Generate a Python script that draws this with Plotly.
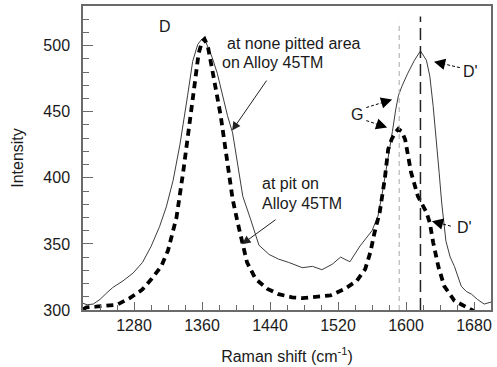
import plotly.graph_objects as go

# ---- data ----
shift_none = [1220, 1225, 1232, 1240, 1248, 1255, 1267, 1279, 1290, 1300, 1310, 1318, 1326, 1334,
              1343, 1349, 1355, 1360, 1365, 1372, 1378, 1384, 1390, 1396, 1400, 1404, 1408, 1417,
              1427, 1439, 1450, 1462, 1478, 1490, 1501, 1513, 1523, 1534, 1546, 1560, 1567, 1572,
              1576, 1580, 1584, 1588, 1591, 1595, 1602, 1610, 1617, 1624, 1628, 1632, 1636, 1639,
              1642, 1647, 1652, 1657, 1665, 1671, 1677, 1684, 1692, 1700]
int_none = [305, 304, 304.5, 308, 313, 317, 322, 328, 336, 348, 363, 378, 398, 425,
            462, 488, 501, 505, 502, 491, 479, 462, 447, 434, 418, 402, 386, 369,
            349, 342, 338.5, 336, 332, 333, 330.5, 334.5, 340, 336.5, 348.5, 360, 371, 388,
            403, 418, 435, 452, 462, 469, 479, 489, 496, 489, 477, 454, 428, 404,
            381, 352, 340, 333, 318, 314, 312, 308, 304.5, 306]

shift_pit = [1220, 1224, 1235, 1244, 1260, 1275, 1289, 1300, 1312, 1320, 1330, 1338, 1343, 1347,
             1352, 1356, 1360, 1363, 1367, 1372, 1378, 1382, 1386, 1390, 1396, 1402, 1408, 1413,
             1423, 1437, 1450, 1466, 1478, 1493, 1511, 1528, 1542, 1552, 1558, 1563, 1569, 1575,
             1579, 1583, 1587, 1591, 1595, 1599, 1603, 1606, 1614, 1624, 1628, 1632, 1638, 1645,
             1657, 1669, 1679, 1686]
int_pit = [300.5, 302, 302.5, 303, 304, 309, 315, 323, 333, 345, 370, 405, 428, 447,
           474, 494, 503, 505, 499, 482, 462, 447, 429, 410, 384, 366, 350, 336,
           323.5, 316, 312, 309.6, 309, 309.6, 311, 316, 322, 331, 343.5, 358.6, 373.7, 399,
           421.5, 429, 434, 437, 435, 429, 416.5, 404, 386, 374, 366, 351, 333, 318,
           307, 303, 299.5, 296]

band_lines = [1592, 1617]          # G band and D' band positions
band_line_tops = [518, 522]

x_ticks = [1280, 1360, 1440, 1520, 1600, 1680]
y_ticks = [300, 350, 400, 450, 500]

FONT = "Liberation Sans, Arial, sans-serif"
TXT = "#1a1a1a"
FS = 16

fig = go.Figure()
fig.add_trace(go.Scatter(x=shift_none, y=int_none, mode="lines",
                         line=dict(color="#3c3c3c", width=1), hoverinfo="skip"))
fig.add_trace(go.Scatter(x=shift_pit, y=int_pit, mode="lines",
                         line=dict(color="black", width=3.8, dash="7px,5px"), hoverinfo="skip"))

# vertical band markers
fig.add_shape(type="line", xref="x", yref="y", x0=band_lines[0], x1=band_lines[0],
              y0=300, y1=band_line_tops[0], line=dict(color="#a8a8a8", width=1, dash="5px,4px"))
fig.add_shape(type="line", xref="x", yref="y", x0=band_lines[1], x1=band_lines[1],
              y0=300, y1=band_line_tops[1], line=dict(color="#222222", width=1.5, dash="12px,6px"))

PPX = 410 / 480.0   # px per x unit
PPY = 305 / 230.0   # px per y unit


def dashed_arrow(x, y, ax, ay):
    """Dashed shaft from tail (pixel offset ax, ay) to tip (x, y) with filled head."""
    xt = x + ax / PPX
    yt = y - ay / PPY
    fig.add_shape(type="line", xref="x", yref="y", x0=xt, y0=yt,
                  x1=x + 0.3 * (xt - x), y1=y + 0.3 * (yt - y),
                  line=dict(color="black", width=1, dash="3px,2px"))
    L = (ax ** 2 + ay ** 2) ** 0.5
    fig.add_annotation(x=x, y=y, xref="x", yref="y", ax=ax / L * 10, ay=ay / L * 10,
                       showarrow=True, arrowhead=2, arrowsize=1.6, arrowwidth=1.4,
                       arrowcolor="black", text=" ")


def label(x, y, text, anchor="left"):
    fig.add_annotation(x=x, y=y, xref="x", yref="y", text=text, showarrow=False,
                       xanchor=anchor, yanchor="middle",
                       font=dict(family=FONT, size=FS, color=TXT))


# labels
label(1317, 514.5, "D", "center")
label(1387, 502, "at none pitted area")
label(1381, 487, "on Alloy 45TM")
label(1428, 395.8, "at pit on")
label(1428, 380.7, "Alloy 45TM")
label(1542, 447.8, "G", "center")
label(1675.4, 480.2, "D'", "center")
label(1669.2, 362.4, "D'", "center")

# solid arrows to the spectra
fig.add_annotation(x=1395.4, y=435.8, xref="x", yref="y", ax=38, ay=-55,
                   showarrow=True, arrowhead=2, arrowsize=1.7, arrowwidth=1,
                   arrowcolor="#222", text=" ")
fig.add_annotation(x=1407.1, y=349.8, xref="x", yref="y", ax=37, ay=-27,
                   showarrow=True, arrowhead=2, arrowsize=1.7, arrowwidth=1,
                   arrowcolor="#222", text=" ")

# dashed arrows
dashed_arrow(1583.7, 459.2, -26, 8)
dashed_arrow(1577.9, 438.0, -21, -7)
dashed_arrow(1632.9, 487.9, 26, 6)
dashed_arrow(1630.5, 367.2, 19, 5)

AX = "#6a6a6a"
fig.update_layout(
    width=497, height=367,
    margin=dict(l=83, r=4, t=6, b=56),
    paper_bgcolor="white", plot_bgcolor="white",
    showlegend=False,
    font=dict(family=FONT, size=FS, color=TXT),
    xaxis=dict(range=[1220, 1700], tickvals=x_ticks, ticks="inside", ticklen=8,
               tickwidth=1, tickcolor=AX, showgrid=False, zeroline=False,
               showline=True, linecolor=AX, linewidth=1.5, mirror=True,
               minor=dict(dtick=20, tick0=1220, ticks="inside", ticklen=5, tickcolor=AX, showgrid=False),
               tickfont=dict(size=FS, color=TXT),
               title=dict(text="Raman shift (cm<sup>-1</sup>)", font=dict(size=FS, color=TXT), standoff=18)),
    yaxis=dict(range=[300, 530], tickvals=y_ticks, ticks="inside", ticklen=10,
               tickwidth=1, tickcolor=AX, showgrid=False, zeroline=False,
               showline=True, linecolor=AX, linewidth=1.5, mirror=True,
               minor=dict(dtick=10, tick0=300, ticks="inside", ticklen=6, tickcolor=AX, showgrid=False),
               tickfont=dict(size=FS, color=TXT), ticklabelstandoff=8,
               title=dict(text="Intensity", font=dict(size=FS, color=TXT), standoff=16)),
)

fig.write_html("out.html")
